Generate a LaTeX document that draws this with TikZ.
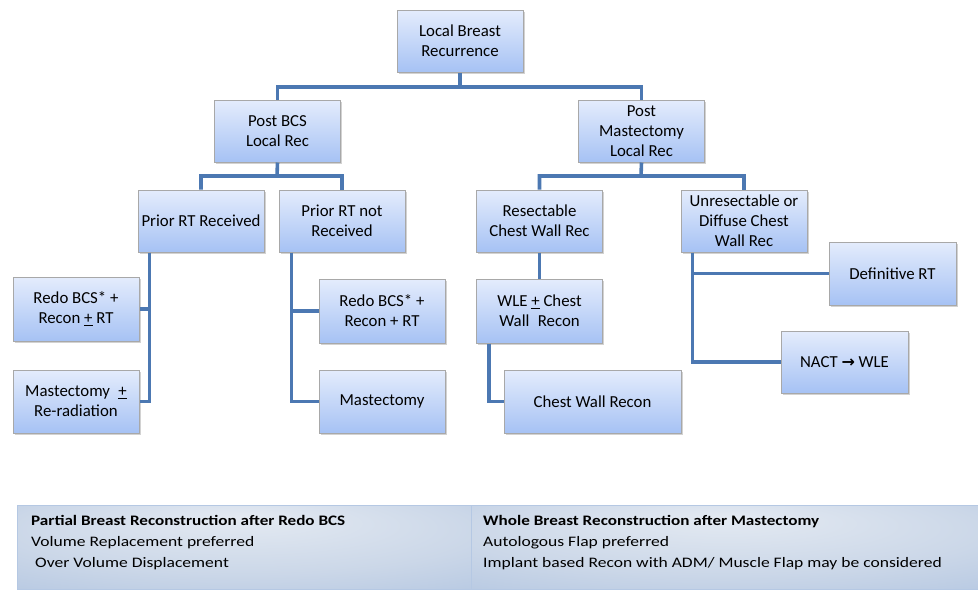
\documentclass[tikz,border=0pt]{standalone}
\usepackage{fontspec}
\setmainfont{Carlito}
\newfontfamily\symfont{DejaVu Sans}
\newfontfamily\panelfont[FakeStretch=1.21, BoldFeatures={FakeStretch=1.18}]{Carlito}
\usetikzlibrary{shadows}
\definecolor{boxtop}{HTML}{E4ECFC}
\definecolor{boxbot}{HTML}{A6C2F4}
\definecolor{boxline}{HTML}{A8A8A8}
\definecolor{conncol}{HTML}{4C78B2}
\definecolor{pl}{HTML}{E4EAF2}
\definecolor{pm}{HTML}{CBD7E8}
\definecolor{pd}{HTML}{A2BADC}
\pgfdeclareradialshading{panelshade}{\pgfpoint{0bp}{18bp}}{color(0bp)=(pl); color(26bp)=(pm); color(58bp)=(pd)}
\tikzset{
  flowbox/.style={draw=boxline, line width=1pt, top color=boxtop, bottom color=boxbot,
    minimum width=126pt, minimum height=62pt, inner sep=2pt, align=center,
    font=\fontsize{16.8}{20}\selectfont,
    drop shadow={shadow xshift=1.5pt, shadow yshift=-1.5pt, opacity=0.35, fill=black!50}},
  conn/.style={draw=conncol, line width=3.6pt},
  panel/.style={draw=pd!80, line width=0.6pt, shading=panelshade},
  paneltext/.style={anchor=north west, align=left, inner sep=0pt,
    font=\panelfont\fontsize{14.5}{20.8}\selectfont}
}
\begin{document}
\begin{tikzpicture}[x=1pt, y=-1pt]
\useasboundingbox (0,0) rectangle (978,590);
\fill[white] (0,0) rectangle (978,590);
\coordinate (j1) at (460,87);
\coordinate (j2) at (277,176);
\coordinate (j3) at (641,176);
% nodes
\node[flowbox] (root) at (460,41) {Local Breast\\Recurrence};
\node[flowbox] (bcs) at (277.5,131) {Post BCS\\Local Rec};
\node[flowbox] (pm) at (641.5,131) {Post\\Mastectomy\\Local Rec};
\node[flowbox] (prr) at (201,221) {Prior RT Received};
\node[flowbox] (prn) at (342,221) {Prior RT not\\Received};
\node[flowbox] (res) at (539.5,221) {Resectable\\Chest Wall Rec};
\node[flowbox] (unr) at (744,221) {Unresectable or\\Diffuse Chest\\Wall Rec};
\node[flowbox, minimum height=64pt] (redoA) at (76,309) {Redo BCS* +\\Recon \underline{+} RT};
\node[flowbox, minimum height=63pt] (mastA) at (76,401.5) {Mastectomy\enspace\underline{+}\\Re-radiation};
\node[flowbox, minimum height=64pt] (redoB) at (382,311) {Redo BCS* +\\Recon + RT};
\node[flowbox, minimum height=63pt] (mastB) at (382,401.5) {Mastectomy};
\node[flowbox, minimum height=64pt] (wle) at (539.5,311) {WLE \underline{+} Chest\\Wall\enspace Recon};
\node[flowbox, minimum width=177pt, minimum height=63pt] (cwr) at (592.5,401.5) {Chest Wall Recon};
\node[flowbox, minimum width=127pt, minimum height=63pt] (defrt) at (892.5,273.5) {Definitive RT};
\node[flowbox, minimum width=127pt, minimum height=62pt] (nact) at (844.5,362) {NACT {\symfont\bfseries\fontsize{16}{19}\selectfont →} WLE};
% connectors
\draw[conn] (root.south) -- (j1) -| (bcs.north);
\draw[conn] (j1) -| (pm.north);
\draw[conn] (bcs.south) -- (j2) -| (prr.north);
\draw[conn] (j2) -| (prn.north);
\draw[conn] (pm.south) -- (j3) -| (res.north);
\draw[conn] (j3) -| (unr.north);
\draw[conn] ([xshift=12pt]prr.south west) |- (redoA.east);
\draw[conn] ([xshift=12pt]prr.south west) |- (mastA.east);
\draw[conn] ([xshift=13pt]prn.south west) |- (redoB.west);
\draw[conn] ([xshift=13pt]prn.south west) |- (mastB.west);
\draw[conn] (res.south) -- (wle.north);
\draw[conn] ([xshift=13pt]wle.south west) |- (cwr.west);
\draw[conn] ([xshift=12pt]unr.south west) |- (defrt.west);
\draw[conn] ([xshift=12pt]unr.south west) |- (nact.west);
% bottom panels
\path[panel] (17,505) rectangle (471,589);
\path[panel] (471,505) rectangle (978,589);
\node[paneltext] (ptA) at (31,515) {\textbf{Partial Breast Reconstruction after Redo BCS}\\Volume Replacement preferred\\\ Over Volume Displacement};
\node[paneltext] (ptB) at (483,515) {\textbf{Whole Breast Reconstruction after Mastectomy}\\Autologous Flap preferred\\Implant based Recon with ADM/ Muscle Flap may be considered};
\end{tikzpicture}
\end{document}
